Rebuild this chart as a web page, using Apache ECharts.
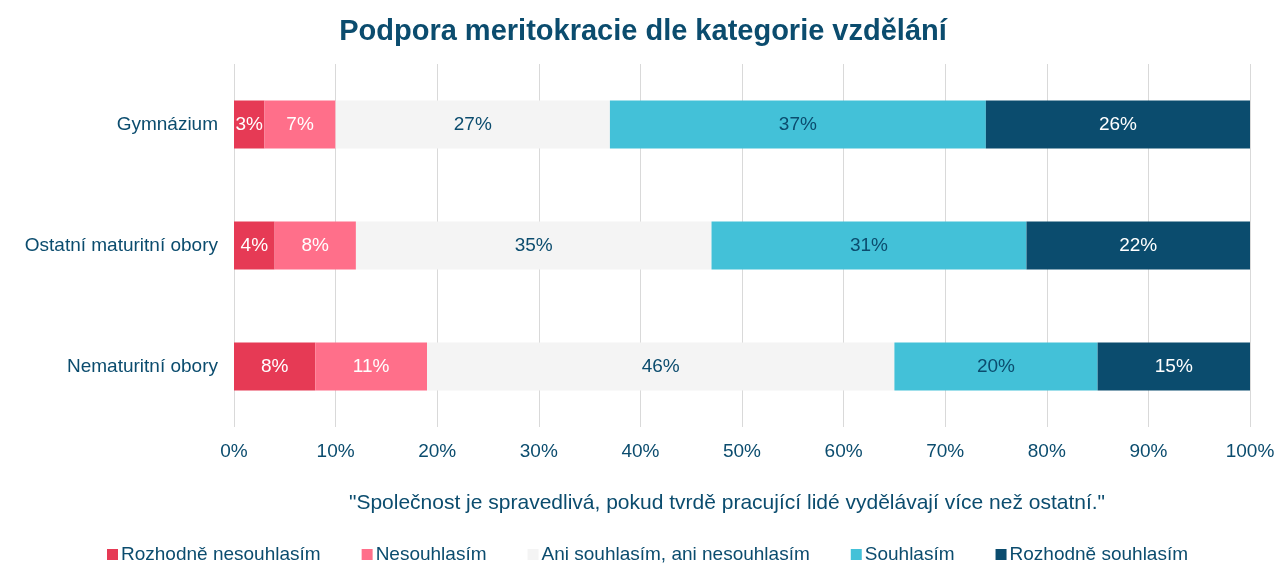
<!DOCTYPE html>
<html>
<head>
<meta charset="utf-8">
<script src="https://cdn.jsdelivr.net/npm/echarts@6/dist/echarts.min.js"></script>
<style>html,body{margin:0;padding:0;background:#fff;}#c{width:1284px;height:571px;}</style>
</head>
<body>
<div id="c"></div>
<script>
const categories = ["Gymnázium", "Ostatní maturitní obory", "Nematuritní obory"];
const seriesNames = ["Rozhodně nesouhlasím", "Nesouhlasím", "Ani souhlasím, ani nesouhlasím", "Souhlasím", "Rozhodně souhlasím"];
const rozhodneNesouhlasim = [3, 4, 8];
const nesouhlasim = [7, 8, 11];
const ani = [27, 35, 46];
const souhlasim = [37, 31, 20];
const rozhodneSouhlasim = [26, 22, 15];
const xTicks = [0, 10, 20, 30, 40, 50, 60, 70, 80, 90, 100];

const colors = ["#E63A55", "#FF6F8A", "#F4F4F4", "#43C1D8", "#0B4C6E"];
const labelColors = ["#FFFFFF", "#FFFFFF", "#0B4C6E", "#0B4C6E", "#FFFFFF"];
const navy = "#0B4C6E";
const font = "Liberation Sans, Arial, sans-serif";
const data = [rozhodneNesouhlasim, nesouhlasim, ani, souhlasim, rozhodneSouhlasim];

const chart = echarts.init(document.getElementById('c'));
chart.setOption({
  animation: false,
  title: {
    text: "Podpora meritokracie dle kategorie vzdělání",
    left: 638, top: 12, textAlign: 'center',
    textStyle: { color: navy, fontSize: 29, fontWeight: 'bold', fontFamily: font }
  },
  legend: {
    bottom: 2, left: 102,
    itemWidth: 11, itemHeight: 11, itemGap: 41,
    icon: 'rect',
    textStyle: { color: navy, fontSize: 19, fontFamily: font, padding: [0, 0, 0, -2] },
    data: seriesNames
  },
  graphic: [{
    type: 'text', x: 727, y: 493,
    style: {
      text: '"Společnost je spravedlivá, pokud tvrdě pracující lidé vydělávají více než ostatní."',
      fill: navy, fontSize: 21, fontFamily: font, align: 'center'
    }
  }],
  grid: { left: 234, right: 34, top: 64, bottom: 144, containLabel: false },
  xAxis: {
    type: 'value', min: 0, max: 100, interval: 10,
    axisLine: { show: false }, axisTick: { show: false },
    splitLine: { lineStyle: { color: '#D9D9D9' } },
    axisLabel: { formatter: v => xTicks.includes(v) ? v + '%' : '', color: navy, fontSize: 19, fontFamily: font, margin: 15 }
  },
  yAxis: {
    type: 'category', data: categories, inverse: true,
    axisLine: { show: false }, axisTick: { show: false },
    axisLabel: { color: navy, fontSize: 19, fontFamily: font, margin: 16 }
  },
  series: seriesNames.map((n, i) => ({
    name: n, type: 'bar', stack: 'total', data: data[i], barWidth: 48,
    itemStyle: { color: colors[i] },
    label: { show: true, position: 'inside', formatter: p => p.value + '%', color: labelColors[i], fontSize: 19, fontFamily: font }
  }))
});
</script>
</body>
</html>
